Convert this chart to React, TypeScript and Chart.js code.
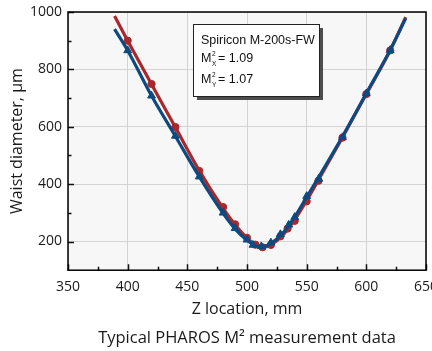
import React, { useEffect, useRef } from 'react';
import { Chart, registerables } from 'chart.js';
Chart.register(...registerables);

const xTickValues = [350, 400, 450, 500, 550, 600, 650];
const xMinorTickValues = [375, 425, 475, 525, 575, 625];
const yTickValues = [200, 400, 600, 800, 1000];
const yMinorTickValues = [300, 500, 700, 900];

const redZ = [400, 420, 440, 460, 480, 490, 500, 507, 513, 520, 528, 534, 540, 550, 560, 580, 600, 620];
const redW = [900, 749, 599, 446, 320, 260, 213, 189, 180, 188, 218, 245, 272, 340, 412, 562, 714, 866];
const blueZ = [400, 420, 440, 460, 480, 490, 500, 505, 512, 520, 528, 535, 540, 550, 560, 580, 600, 620];
const blueW = [866, 708, 568, 426, 300, 246, 206, 188, 183, 196, 225, 258, 285, 358, 418, 563, 716, 867];

const redFitZ = [389, 400, 420, 440, 460, 480, 490, 500, 505, 510, 515, 520, 530, 540, 550, 560, 580, 600, 620, 633];
const redFitW = [986, 900, 748, 598, 447, 315, 258, 212, 194, 184, 181, 188, 222, 276, 343, 415, 563, 714, 866, 982];
const blueFitZ = [389, 400, 420, 440, 460, 480, 490, 500, 505, 510, 515, 520, 530, 540, 550, 560, 580, 600, 620, 633];
const blueFitW = [940, 866, 708, 567, 426, 298, 244, 204, 190, 183, 184, 193, 229, 286, 355, 424, 566, 717, 868, 978];

const legendTitle = 'Spiricon M-200s-FW';
const m2xValue = '1.09';
const m2yValue = '1.07';

const RED = '#a9282c';
const BLUE = '#0c4a80';
const FONT = '"Open Sans", sans-serif';

const toPts = (xs: number[], ys: number[]) => xs.map((x, i) => ({ x, y: ys[i] }));

const framePlugin = {
  id: 'frame',
  beforeDraw(chart: any) {
    const { ctx, chartArea: a } = chart;
    ctx.save();
    ctx.fillStyle = '#f7f7f7';
    ctx.fillRect(a.left, a.top, a.right - a.left, a.bottom - a.top);
    ctx.restore();
  },
  afterDraw(chart: any) {
    const { ctx, chartArea: a, scales } = chart;
    const xs = scales.x;
    const ys = scales.y;
    ctx.save();
    ctx.strokeStyle = '#111';
    ctx.lineWidth = 1.5;
    ctx.beginPath();
    xTickValues.forEach((v) => {
      const px = Math.round(xs.getPixelForValue(v)) + 0.5;
      ctx.moveTo(px, a.bottom);
      ctx.lineTo(px, a.bottom - 6);
    });
    xMinorTickValues.forEach((v) => {
      const px = Math.round(xs.getPixelForValue(v)) + 0.5;
      ctx.moveTo(px, a.bottom);
      ctx.lineTo(px, a.bottom - 3.5);
    });
    yTickValues.forEach((v) => {
      const py = Math.round(ys.getPixelForValue(v)) + 0.5;
      ctx.moveTo(a.left, py);
      ctx.lineTo(a.left + 6, py);
    });
    yMinorTickValues.forEach((v) => {
      const py = Math.round(ys.getPixelForValue(v)) + 0.5;
      ctx.moveTo(a.left, py);
      ctx.lineTo(a.left + 3.5, py);
    });
    ctx.stroke();
    ctx.lineWidth = 1.5;
    ctx.strokeStyle = '#000';
    ctx.strokeRect(a.left, a.top, a.right - a.left, a.bottom - a.top);

    // legend box
    const bx = a.left + 125;
    const by = a.top + 12;
    const bw = 126;
    const bh = 72;
    ctx.fillStyle = '#4d4d4d';
    ctx.fillRect(bx + 4, by + 4, bw, bh);
    ctx.fillStyle = '#ffffff';
    ctx.fillRect(bx, by, bw, bh);
    ctx.strokeStyle = '#222';
    ctx.lineWidth = 1;
    ctx.strokeRect(bx + 0.5, by + 0.5, bw, bh);

    ctx.fillStyle = '#111';
    ctx.textBaseline = 'middle';
    ctx.textAlign = 'left';
    const main = '12.5px "Liberation Sans", Arial, sans-serif';
    const small = '6.5px "Liberation Sans", Arial, sans-serif';
    ctx.font = main;
    ctx.fillText(legendTitle, bx + 8, by + 17);
    const drawM = (cy: number, sub: string, val: string) => {
      ctx.font = main;
      ctx.fillText('M', bx + 8, cy);
      const mw = ctx.measureText('M').width;
      ctx.font = small;
      ctx.fillText('2', bx + 8 + mw + 0.5, cy - 5);
      ctx.fillText(sub, bx + 8 + mw + 0.5, cy + 5);
      ctx.font = main;
      ctx.fillText('= ' + val, bx + 25, cy);
    };
    drawM(by + 35, 'X', m2xValue);
    drawM(by + 56, 'Y', m2yValue);
    ctx.restore();
  },
};

export default function App() {
  const ref = useRef<HTMLCanvasElement | null>(null);
  useEffect(() => {
    if (!ref.current) return;
    const chart = new Chart(ref.current, {
      type: 'scatter',
      data: {
        datasets: [
          {
            label: 'Y data',
            data: toPts(blueZ, blueW),
            pointStyle: 'triangle',
            pointRadius: 4.5,
            backgroundColor: BLUE,
            borderColor: BLUE,
            borderWidth: 1,
            showLine: false,
          },
          {
            label: 'Y fit',
            data: toPts(blueFitZ, blueFitW),
            showLine: true,
            pointRadius: 0,
            borderColor: BLUE,
            borderWidth: 3.2,
            cubicInterpolationMode: 'monotone',
          },
          {
            label: 'X data',
            data: toPts(redZ, redW),
            pointStyle: 'circle',
            pointRadius: 3.6,
            backgroundColor: RED,
            borderColor: RED,
            borderWidth: 1,
            showLine: false,
          },
          {
            label: 'X fit',
            data: toPts(redFitZ, redFitW),
            showLine: true,
            pointRadius: 0,
            borderColor: RED,
            borderWidth: 3.2,
            cubicInterpolationMode: 'monotone',
          },
        ],
      } as any,
      options: {
        animation: false,
        responsive: false,
        devicePixelRatio: 1,
        layout: { padding: { left: 0, right: 6, top: 12, bottom: 0 } },
        plugins: {
          legend: { display: false },
          tooltip: { enabled: false },
          title: {
            display: true,
            fullSize: false,
            position: 'bottom',
            text: 'Typical PHAROS M² measurement data',
            color: '#1a1a1a',
            font: { family: FONT, size: 16.5, weight: 'normal' },
            padding: { top: 6, bottom: 3 },
          },
        },
        scales: {
          x: {
            type: 'linear',
            min: 350,
            max: 650,
            afterBuildTicks: (s: any) => {
              s.ticks = xTickValues.map((v) => ({ value: v }));
            },
            afterFit: (s: any) => {
              s.height = 52;
              s.paddingLeft = 0;
              s.paddingRight = 0;
            },
            grid: { color: '#d3d3d3', lineWidth: 1, drawTicks: false },
            border: { display: false },
            ticks: {
              autoSkip: false,
              maxRotation: 0,
              padding: 8,
              color: '#1a1a1a',
              font: { family: FONT, size: 14 },
              callback: (v: any) => String(v),
            },
            title: {
              display: true,
              text: 'Z location, mm',
              color: '#1a1a1a',
              font: { family: FONT, size: 16 },
              padding: { top: 0, bottom: 3 },
            },
          },
          y: {
            type: 'linear',
            min: 100,
            max: 1000,
            afterBuildTicks: (s: any) => {
              s.ticks = yTickValues.map((v) => ({ value: v }));
            },
            afterFit: (s: any) => {
              s.width = 68;
              s.paddingTop = 0;
              s.paddingBottom = 0;
            },
            grid: { color: '#d3d3d3', lineWidth: 1, drawTicks: false },
            border: { display: false },
            ticks: {
              autoSkip: false,
              padding: 6,
              color: '#1a1a1a',
              font: { family: FONT, size: 14 },
              callback: (v: any) => String(v),
            },
            title: {
              display: true,
              text: 'Waist diameter, µm',
              color: '#1a1a1a',
              font: { family: FONT, size: 16 },
              padding: { top: 8, bottom: 0 },
            },
          },
        },
      } as any,
      plugins: [framePlugin],
    });
    return () => chart.destroy();
  }, []);
  return (
    <div style={{ position: 'absolute', left: 0, top: 0, width: 432, height: 351 }}>
      <canvas ref={ref} width={432} height={351} />
    </div>
  );
}
